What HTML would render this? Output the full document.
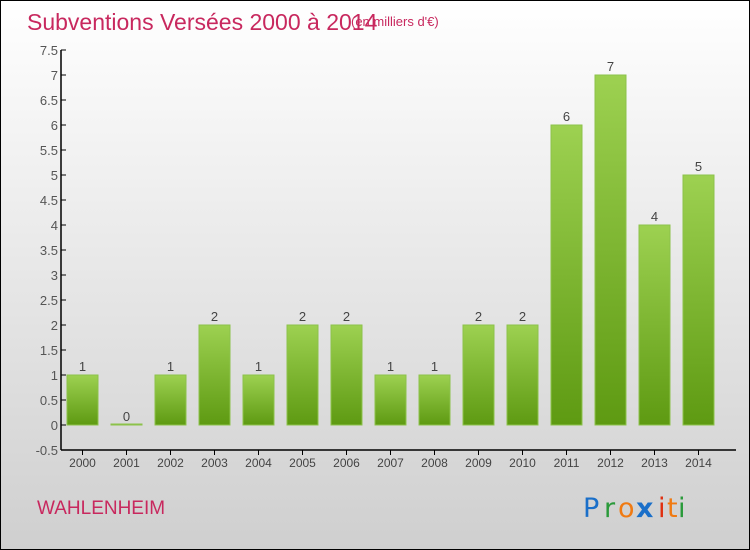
<!DOCTYPE html>
<html><head><meta charset="utf-8"><style>
body{margin:0}
#c{width:748px;height:548px;border:1px solid #000;background:linear-gradient(#ffffff,#cfcfcf);position:relative;font-family:"Liberation Sans",sans-serif;overflow:hidden}
</style></head><body>
<div id="c">
<svg width="748" height="548" id="s">
<defs><linearGradient id="g" x1="0" y1="0" x2="0" y2="1"><stop offset="0" stop-color="#9dd151"/><stop offset="1" stop-color="#5e9a12"/></linearGradient></defs>
<text x="26" y="29" font-size="23" fill="#c8285e">Subventions Versées 2000 à 2014</text>
<text x="350" y="25" font-size="13" fill="#c8285e">(en milliers d'€)</text>
<text x="36" y="513" font-size="19" fill="#c8285e">WAHLENHEIM</text>
<g font-size="27" font-family="'DejaVu Sans',sans-serif">
<text x="582" y="516" fill="#1a6fc9">P</text><text x="603" y="516" fill="#2a9a3a">r</text><text x="617" y="516" fill="#f07a12">o</text><text x="635" y="516" fill="#1a6fc9" font-weight="bold">x</text><text x="657" y="516" fill="#e03010">i</text><text x="666" y="516" fill="#f07a12">t</text><text x="677" y="516" fill="#2a9a3a">i</text>
</g>
<g id="plot"></g>
</svg></div>
<script>
const years=["2000","2001","2002","2003","2004","2005","2006","2007","2008","2009","2010","2011","2012","2013","2014"];
const values=[1,0,1,2,1,2,2,1,1,2,2,6,7,4,5];
const yTicks=[-0.5,0,0.5,1,1.5,2,2.5,3,3.5,4,4.5,5,5.5,6,6.5,7,7.5];
const NS="http://www.w3.org/2000/svg";
const p=document.getElementById('plot');
const y=v=>424-(v*50);
const x=i=>81.5+i*44;
function mk(t,a){const e=document.createElementNS(NS,t);for(const k in a)e.setAttribute(k,a[k]);p.appendChild(e);return e;}
let ax=mk('line',{x1:60,y1:49,x2:60,y2:449,stroke:'#000','stroke-width':1.5});


let bx=mk('line',{x1:60,y1:449,x2:735,y2:449,stroke:'#000','stroke-width':1.5});


yTicks.forEach(v=>{
 const tk=mk('line',{x1:60,y1:y(v),x2:65,y2:y(v),stroke:'#000'});
 
 
 const t=mk('text',{x:57,y:y(v)+5,'text-anchor':'end','font-size':13,fill:'#555'});
 t.textContent=String(v);
 
 
});
years.forEach((yr,i)=>{
 const v=values[i];
 const tk=mk('line',{x1:x(i),y1:449,x2:x(i),y2:454,stroke:'#000'});
 
 
 const t=mk('text',{x:x(i),y:466,'text-anchor':'middle','font-size':12,fill:'#444'});
 t.textContent=yr;
 
 
 const h=Math.max(1,y(0)-y(v));
 const b=mk('rect',{x:x(i)-15.5,y:y(0)-h,width:31,height:h,fill:'url(#g)',stroke:'#8cc24a','stroke-width':1});
 
 
 const l=mk('text',{x:x(i),y:y(v)-4,'text-anchor':'middle','font-size':13,fill:'#444'});
 l.textContent=String(v);
 
 
});
</script>
</body></html>
